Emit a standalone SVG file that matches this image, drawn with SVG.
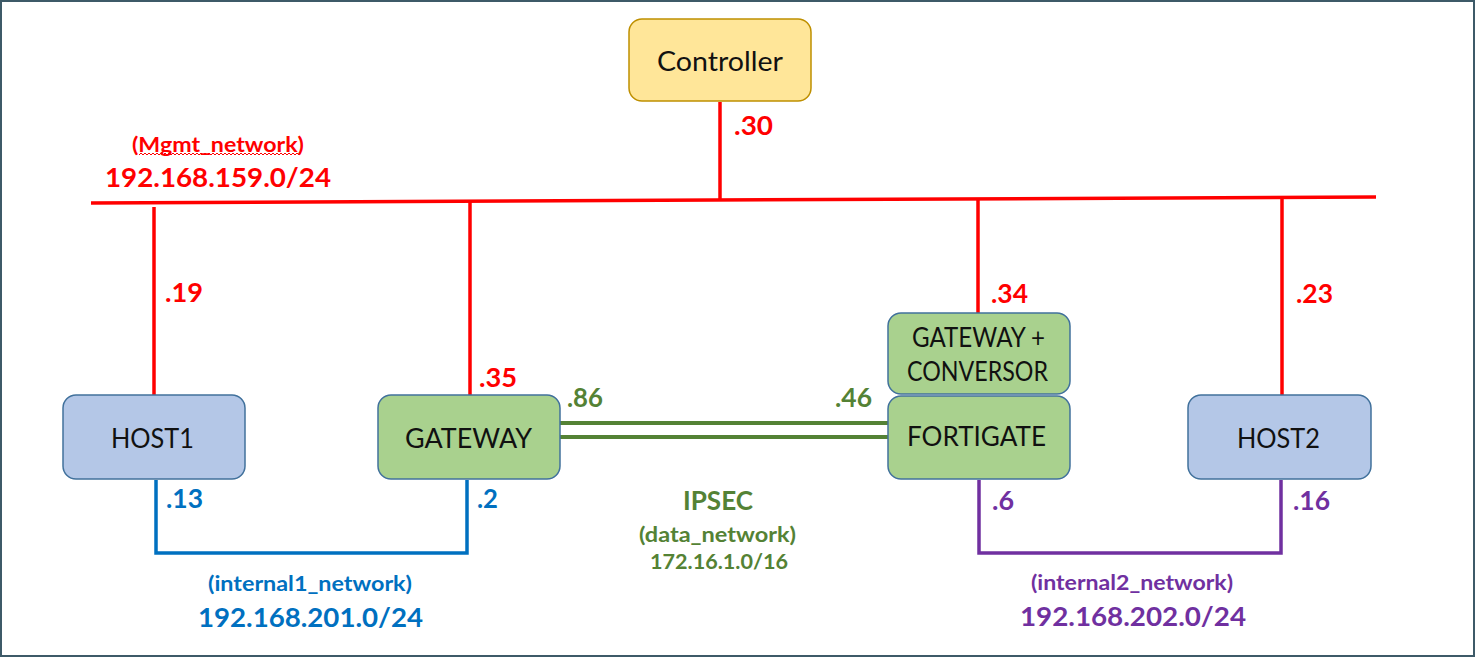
<svg xmlns="http://www.w3.org/2000/svg" width="1476" height="659" viewBox="0 0 1476 659">
<style>
.node text{font-family:Lato,"Open Sans","Liberation Sans",sans-serif;font-size:26px;fill:#111;}
.lbl{font-family:Lato,"Open Sans","Liberation Sans",sans-serif;font-weight:bold;}
.red{fill:#FF0000;}
.grn{fill:#548235;}
.blu{fill:#0070C0;}
.pur{fill:#7030A0;}
.big{font-size:26px;}
.small{font-size:21px;}
.host rect{fill:#B4C7E7;stroke:#41719C;stroke-width:1.5;}
.gw rect{fill:#A9D18E;stroke:#41719C;stroke-width:1.5;}
.ctrl rect{fill:#FFE699;stroke:#BF9000;stroke-width:1.5;}
.mg{stroke:#FF0000;stroke-width:3.5;fill:none;}
.in1{stroke:#0070C0;stroke-width:3.5;fill:none;}
.in2{stroke:#7030A0;stroke-width:3.5;fill:none;}
.ips{stroke:#548235;stroke-width:4;fill:none;}
</style>
<rect x="0" y="0" width="1476" height="659" fill="#ffffff"/>
<rect x="1" y="1" width="1473" height="655" fill="none" stroke="#3D5A68" stroke-width="2"/>

<g id="connectors">
  <line class="mg" x1="91" y1="203" x2="1376" y2="197"/>
  <line class="mg" x1="720" y1="102" x2="720" y2="200"/>
  <line class="mg" x1="154" y1="207" x2="154" y2="395"/>
  <line class="mg" x1="470" y1="202" x2="470" y2="395"/>
  <line class="mg" x1="978" y1="199" x2="978" y2="313"/>
  <line class="mg" x1="1282" y1="198" x2="1282" y2="395"/>
  <line class="ips" x1="560" y1="423" x2="888" y2="423"/>
  <line class="ips" x1="560" y1="437" x2="888" y2="437"/>
  <polyline class="in1" points="156,480 156,553 467,553 467,480"/>
  <polyline class="in2" points="979,480 979,553 1281,553 1281,480"/>
</g>

<g id="controller" class="node ctrl">
  <rect x="629" y="19" width="182" height="82" rx="13"/>
  <text x="657" y="71" textLength="126" lengthAdjust="spacingAndGlyphs">Controller</text>
</g>
<g id="host1" class="node host">
  <rect x="63" y="395" width="182" height="84" rx="13"/>
  <text x="111" y="448" textLength="83" lengthAdjust="spacingAndGlyphs">HOST1</text>
</g>
<g id="gateway" class="node gw">
  <rect x="378" y="395" width="182" height="84" rx="13"/>
  <text x="405" y="448" textLength="127" lengthAdjust="spacingAndGlyphs">GATEWAY</text>
</g>
<g id="gateway-conversor" class="node gw">
  <rect x="888" y="313" width="182" height="81" rx="13"/>
  <text x="912" y="347" textLength="133" lengthAdjust="spacingAndGlyphs">GATEWAY +</text>
  <text x="907" y="381" textLength="141" lengthAdjust="spacingAndGlyphs">CONVERSOR</text>
</g>
<g id="fortigate" class="node gw">
  <rect x="888" y="396" width="182" height="83" rx="13"/>
  <text x="907" y="446" textLength="139" lengthAdjust="spacingAndGlyphs">FORTIGATE</text>
</g>
<g id="host2" class="node host">
  <rect x="1188" y="395" width="183" height="84" rx="13"/>
  <text x="1237" y="448" textLength="83" lengthAdjust="spacingAndGlyphs">HOST2</text>
</g>

<g id="labels">
  <text class="lbl red small" x="132" y="152" textLength="172" lengthAdjust="spacingAndGlyphs">(Mgmt_network)</text>
  <path d="M139 155 l2 -2 l2 2 l2 -2 l2 2 l2 -2 l2 2 l2 -2 l2 2 l2 -2 l2 2 l2 -2 l2 2 l2 -2 l2 2 l2 -2 l2 2 l2 -2 l2 2 l2 -2 l2 2 l2 -2 l2 2 l2 -2 l2 2 l2 -2 l2 2 l2 -2 l2 2 l2 -2 l2 2 l2 -2 l2 2 l2 -2 l2 2 l2 -2 l2 2 l2 -2 l2 2 l2 -2 l2 2 l2 -2 l2 2 l2 -2 l2 2 l2 -2 l2 2 l2 -2 l2 2 l2 -2 l2 2 l2 -2 l2 2 l2 -2 l2 2 l2 -2 l2 2 l2 -2 l2 2 l2 -2 l2 2 l2 -2 l2 2 l2 -2 l2 2 l2 -2 l2 2 l2 -2 l2 2 l2 -2 l2 2 l2 -2 l2 2 l2 -2 l2 2 l2 -2 l2 2 l2 -2 l2 2 l2 -2 l2 2" fill="none" stroke="#FF0000" stroke-width="1"/>
  <text class="lbl red big" x="105" y="187" textLength="226" lengthAdjust="spacingAndGlyphs">192.168.159.0/24</text>
  <text class="lbl red big" x="734" y="135" textLength="39" lengthAdjust="spacingAndGlyphs">.30</text>
  <text class="lbl red big" x="165" y="302" textLength="38" lengthAdjust="spacingAndGlyphs">.19</text>
  <text class="lbl red big" x="479" y="387" textLength="38" lengthAdjust="spacingAndGlyphs">.35</text>
  <text class="lbl red big" x="991" y="303" textLength="37" lengthAdjust="spacingAndGlyphs">.34</text>
  <text class="lbl red big" x="1296" y="303" textLength="37" lengthAdjust="spacingAndGlyphs">.23</text>
  <text class="lbl grn big" x="567" y="407" textLength="36" lengthAdjust="spacingAndGlyphs">.86</text>
  <text class="lbl grn big" x="835" y="407" textLength="37" lengthAdjust="spacingAndGlyphs">.46</text>
  <text class="lbl grn big" x="683" y="510" textLength="70" lengthAdjust="spacingAndGlyphs">IPSEC</text>
  <text class="lbl grn small" x="639" y="542" textLength="157" lengthAdjust="spacingAndGlyphs">(data_network)</text>
  <text class="lbl grn small" x="650" y="569" textLength="138" lengthAdjust="spacingAndGlyphs">172.16.1.0/16</text>
  <text class="lbl blu big" x="166" y="508" textLength="37" lengthAdjust="spacingAndGlyphs">.13</text>
  <text class="lbl blu big" x="477" y="508" textLength="21" lengthAdjust="spacingAndGlyphs">.2</text>
  <text class="lbl blu small" x="208" y="591" textLength="204" lengthAdjust="spacingAndGlyphs">(internal1_network)</text>
  <text class="lbl blu big" x="198" y="627" textLength="225" lengthAdjust="spacingAndGlyphs">192.168.201.0/24</text>
  <text class="lbl pur big" x="992" y="510" textLength="22" lengthAdjust="spacingAndGlyphs">.6</text>
  <text class="lbl pur big" x="1293" y="510" textLength="37" lengthAdjust="spacingAndGlyphs">.16</text>
  <text class="lbl pur small" x="1031" y="590" textLength="202" lengthAdjust="spacingAndGlyphs">(internal2_network)</text>
  <text class="lbl pur big" x="1020" y="626" textLength="226" lengthAdjust="spacingAndGlyphs">192.168.202.0/24</text>
</g>
</svg>
